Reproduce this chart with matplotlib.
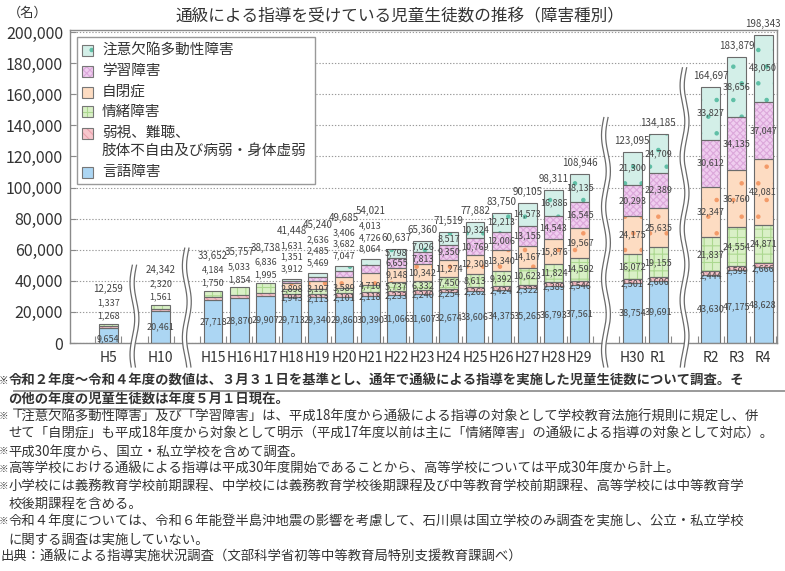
import matplotlib
matplotlib.use("Agg")
import matplotlib.pyplot as plt
from matplotlib.patches import Rectangle
from matplotlib.lines import Line2D
import numpy as np

plt.rcParams['font.family'] = ['Noto Sans CJK JP', 'DejaVu Sans']
plt.rcParams['hatch.linewidth'] = 0.8

# --- data ---
years = ["H5", "H10", "H15", "H16", "H17", "H18", "H19", "H20", "H21", "H22", "H23",
         "H24", "H25", "H26", "H27", "H28", "H29", "H30", "R1", "R2", "R3", "R4"]
gengo = [9654, 20461, 27718, 28870, 29907, 29713, 29340, 29860, 30390, 31066, 31607,
         32674, 33606, 34375, 35265, 36793, 37561, 38754, 39691, 43630, 47175, 48628]
jakushi = [1268, 1561, 1750, 1854, 1995, 1943, 2113, 2101, 2118, 2233, 2240,
           2254, 2262, 2424, 2322, 2389, 2546, 2501, 2606, 2444, 2599, 2666]
jocho = [1337, 2320, 4184, 5033, 6836, 2898, 3197, 3589, 4710, 5737, 6332,
         7450, 8613, 9392, 10623, 11824, 14592, 16072, 19155, 21837, 24554, 24871]
jiheisho = [0, 0, 0, 0, 0, 3912, 5469, 7047, 8064, 9148, 10342,
            11274, 12308, 13340, 14167, 15876, 19567, 24175, 25635, 32347, 36760, 42081]
gakushu = [0, 0, 0, 0, 0, 1351, 2485, 3682, 4726, 6655, 7813,
           9350, 10769, 12006, 13155, 14543, 16545, 20293, 22389, 30612, 34135, 37047]
adhd = [0, 0, 0, 0, 0, 1631, 2636, 3406, 4013, 5798, 7026,
        8517, 10324, 12213, 14573, 16886, 18135, 21300, 24709, 33827, 38656, 43050]
totals = [12259, 24342, 33652, 35757, 38738, 41448, 45240, 49685, 54021, 60637, 65360,
          71519, 77882, 83750, 90105, 98311, 108946, 123095, 134185, 164697, 183879, 198343]

series_names = ["言語障害", "弱視、難聴、\n肢体不自由及び病弱・身体虚弱", "情緒障害",
                "自閉症", "学習障害", "注意欠陥多動性障害"]
series = [gengo, jakushi, jocho, jiheisho, gakushu, adhd]

# --- layout ---
# slot positions along the broken x axis (gaps where the axis is broken)
slots = [-4, -2] + list(range(0, 15)) + [16, 17, 19, 20, 21]
breaks = [(-3, 50000), (-1, 61000), (15, 145000), (18, 177000)]

# style per series: face, hatch, hatch colour
styles = [
    ("#acd6f3", None, None),
    ("#f7c6cc", "\\\\\\\\", "#eba0ad"),
    ("#d9f0c6", "++", "#acd890"),
    ("#fddcc2", ".", "#f39a68"),
    ("#efcdef", "xxxxx", "#dca8db"),
    ("#d3efe8", ".", "#5fbfa6"),
]
edge = "#6b6b6b"
txt = "#444444"

W, H = 785, 571
fig = plt.figure(figsize=(W / 100, H / 100), dpi=100)
ax = fig.add_axes([70 / W, 1 - 343 / H, 707 / W, 313 / H])


def fx(px):
    return px / W


def fy(py):
    return 1 - py / H


ax.set_xlim(-5.46, 21.53)
ax.set_ylim(0, 201300)

bw = 0.72
bottoms = np.zeros(len(years))
seg_mid = []
for vals, (face, hatch, hcol) in zip(series, styles):
    vals = np.array(vals, dtype=float)
    m = vals > 0
    xs = np.array(slots)[m]
    ax.bar(xs, vals[m], bw, bottom=bottoms[m], color=face, hatch=hatch,
           edgecolor=hcol if hcol else face, linewidth=0, zorder=2)
    ax.bar(xs, vals[m], bw, bottom=bottoms[m], fill=False,
           edgecolor=edge, linewidth=0.8, zorder=3)
    seg_mid.append(bottoms + vals / 2)
    bottoms = bottoms + vals


def put(x, y, s, dy=0, size=6.5):
    ax.annotate(s, (x, y), xytext=(0, dy), textcoords="offset pixels",
                ha="center", va="center", fontsize=size, color=txt, zorder=6)


for i, x in enumerate(slots):
    top = totals[i]
    if i <= 4:
        put(x, seg_mid[0][i], f"{gengo[i]:,}", dy=-3 if i == 0 else 0)
        put(x, top, f"{jakushi[i]:,}", dy=8)
        put(x, top, f"{jocho[i]:,}", dy=21)
        put(x, top, f"{totals[i]:,}", dy=35, size=7)
    elif i <= 8:
        put(x, seg_mid[0][i], f"{gengo[i]:,}")
        put(x, seg_mid[1][i], f"{jakushi[i]:,}", dy=-3)
        put(x, seg_mid[2][i], f"{jocho[i]:,}", dy=3)
        put(x, top, f"{jiheisho[i]:,}", dy=10)
        put(x, top, f"{gakushu[i]:,}", dy=21.5)
        put(x, top, f"{adhd[i]:,}", dy=33)
        put(x, top, f"{totals[i]:,}", dy=48, size=7)
    else:
        for k, vals in enumerate(series):
            put(x, seg_mid[k][i], f"{vals[i]:,}", dy=-3 if k == 1 else 0)
        put(x, top, f"{totals[i]:,}", dy=11, size=7)

# axes styling
for s in ax.spines.values():
    s.set_color("#8a8a8a")
    s.set_linewidth(1.0)
ax.set_yticks(np.arange(0, 200001, 20000))
ax.set_yticklabels([f"{v:,}" for v in range(0, 200001, 20000)])
ax.yaxis.grid(True, linestyle=(0, (1.2, 1.6)), color="#9a9a9a", linewidth=0.8)
ax.set_axisbelow(True)
ax.tick_params(axis="y", direction="in", length=4, width=0.8, color="#8a8a8a",
               labelsize=11.5, labelcolor="#333333", pad=5)
ax.set_xticks(slots)
ax.set_xticklabels(years)
ax.tick_params(axis="x", length=0, labelsize=10, labelcolor="#333333", pad=6)
minor = sorted(set([s - 0.5 for s in slots] + [s + 0.5 for s in slots]))
ax.set_xticks(minor, minor=True)
ax.tick_params(axis="x", which="minor", direction="in", length=5, width=0.8,
               color="#8a8a8a")

# axis breaks (double wavy lines with a white gap)
gap, amp, period = 0.16, 0.09, 46000
for bx, ytop in breaks:
    yy = np.linspace(-15400, ytop, 200)
    off = amp * np.sin(2 * np.pi * (yy - ytop) / period)
    f = ax.fill_betweenx(yy, bx + off - gap / 2, bx + off + gap / 2,
                         color="white", linewidth=0, zorder=4)
    f.set_clip_on(False)
    for sgn in (-1, 1):
        ln, = ax.plot(bx + off + sgn * gap / 2, yy, color="#6b6b6b", lw=0.9, zorder=5)
        ln.set_clip_on(False)

# legend (drawn by hand to match the boxed layout)
fig.add_artist(Rectangle((fx(77), fy(184)), fx(315) - fx(77), fy(37) - fy(184),
                         transform=fig.transFigure, facecolor="white",
                         edgecolor="#999999", linewidth=1.0, zorder=5))
leg_rows = [(5, 50), (4, 71), (3, 92), (2, 112), (1, 133), (0, 172)]
sq = 11
for k, py in leg_rows:
    face, hatch, hcol = styles[k]
    r = Rectangle((fx(82), fy(py + sq / 2)), fx(sq), sq / H, transform=fig.transFigure,
                  facecolor=face, hatch=hatch, edgecolor=hcol if hcol else face,
                  linewidth=0, zorder=6)
    fig.add_artist(r)
    fig.add_artist(Rectangle((fx(82), fy(py + sq / 2)), fx(sq), sq / H,
                             transform=fig.transFigure, fill=False,
                             edgecolor="#777777", linewidth=0.8, zorder=7))
    lines = series_names[k].split("\n")
    for j, line in enumerate(lines):
        fig.text(fx(102), fy(py + 17.5 * j), line, ha="left", va="center",
                 fontsize=10.5, color="#333333", zorder=8)

# title and unit
fig.text(fx(400), fy(17), "通級による指導を受けている児童生徒数の推移（障害種別）",
         ha="center", va="center", fontsize=12, color="#333333")
fig.text(fx(28), fy(13), "（名）", ha="center", va="center", fontsize=9.5, color="#333333")

# footnotes
notes = [
    ("※", "令和２年度～令和４年度の数値は、３月３１日を基準とし、通年で通級による指導を実施した児童生徒数について調査。そ", True),
    ("", "の他の年度の児童生徒数は年度５月１日現在。", True),
    ("※", "「注意欠陥多動性障害」及び「学習障害」は、平成18年度から通級による指導の対象として学校教育法施行規則に規定し、併", False),
    ("", "せて「自閉症」も平成18年度から対象として明示（平成17年度以前は主に「情緒障害」の通級による指導の対象として対応）。", False),
    ("※", "平成30年度から、国立・私立学校を含めて調査。", False),
    ("※", "高等学校における通級による指導は平成30年度開始であることから、高等学校については平成30年度から計上。", False),
    ("※", "小学校には義務教育学校前期課程、中学校には義務教育学校後期課程及び中等教育学校前期課程、高等学校には中等教育学", False),
    ("", "校後期課程を含める。", False),
    ("※", "令和４年度については、令和６年能登半島沖地震の影響を考慮して、石川県は国立学校のみ調査を実施し、公立・私立学校", False),
    ("", "に関する調査は実施していない。", False),
    ("", "出典：通級による指導実施状況調査（文部科学省初等中等教育局特別支援教育課調べ）", False),
]
for i, (mark, line, bold) in enumerate(notes):
    py = 381 + 17.6 * i
    w = "bold" if bold else "normal"
    if mark:
        fig.text(fx(-1.5), fy(py), mark, ha="left", va="center", fontsize=6.8,
                 color="#333333", fontweight=w)
    x0 = 0 if line.startswith("出典") else 8.5
    fig.text(fx(x0), fy(py), line, ha="left", va="center", fontsize=9.6,
             color="#333333", fontweight=w)

fig.add_artist(Line2D([fx(14), fx(785)], [fy(391), fy(391)], transform=fig.transFigure,
                      color="#9a9a9a", lw=1.4))
fig.add_artist(Line2D([fx(14), fx(200)], [fy(409), fy(409)], transform=fig.transFigure,
                      color="#9a9a9a", lw=1.4))

fig.savefig("out.png", dpi=100)
